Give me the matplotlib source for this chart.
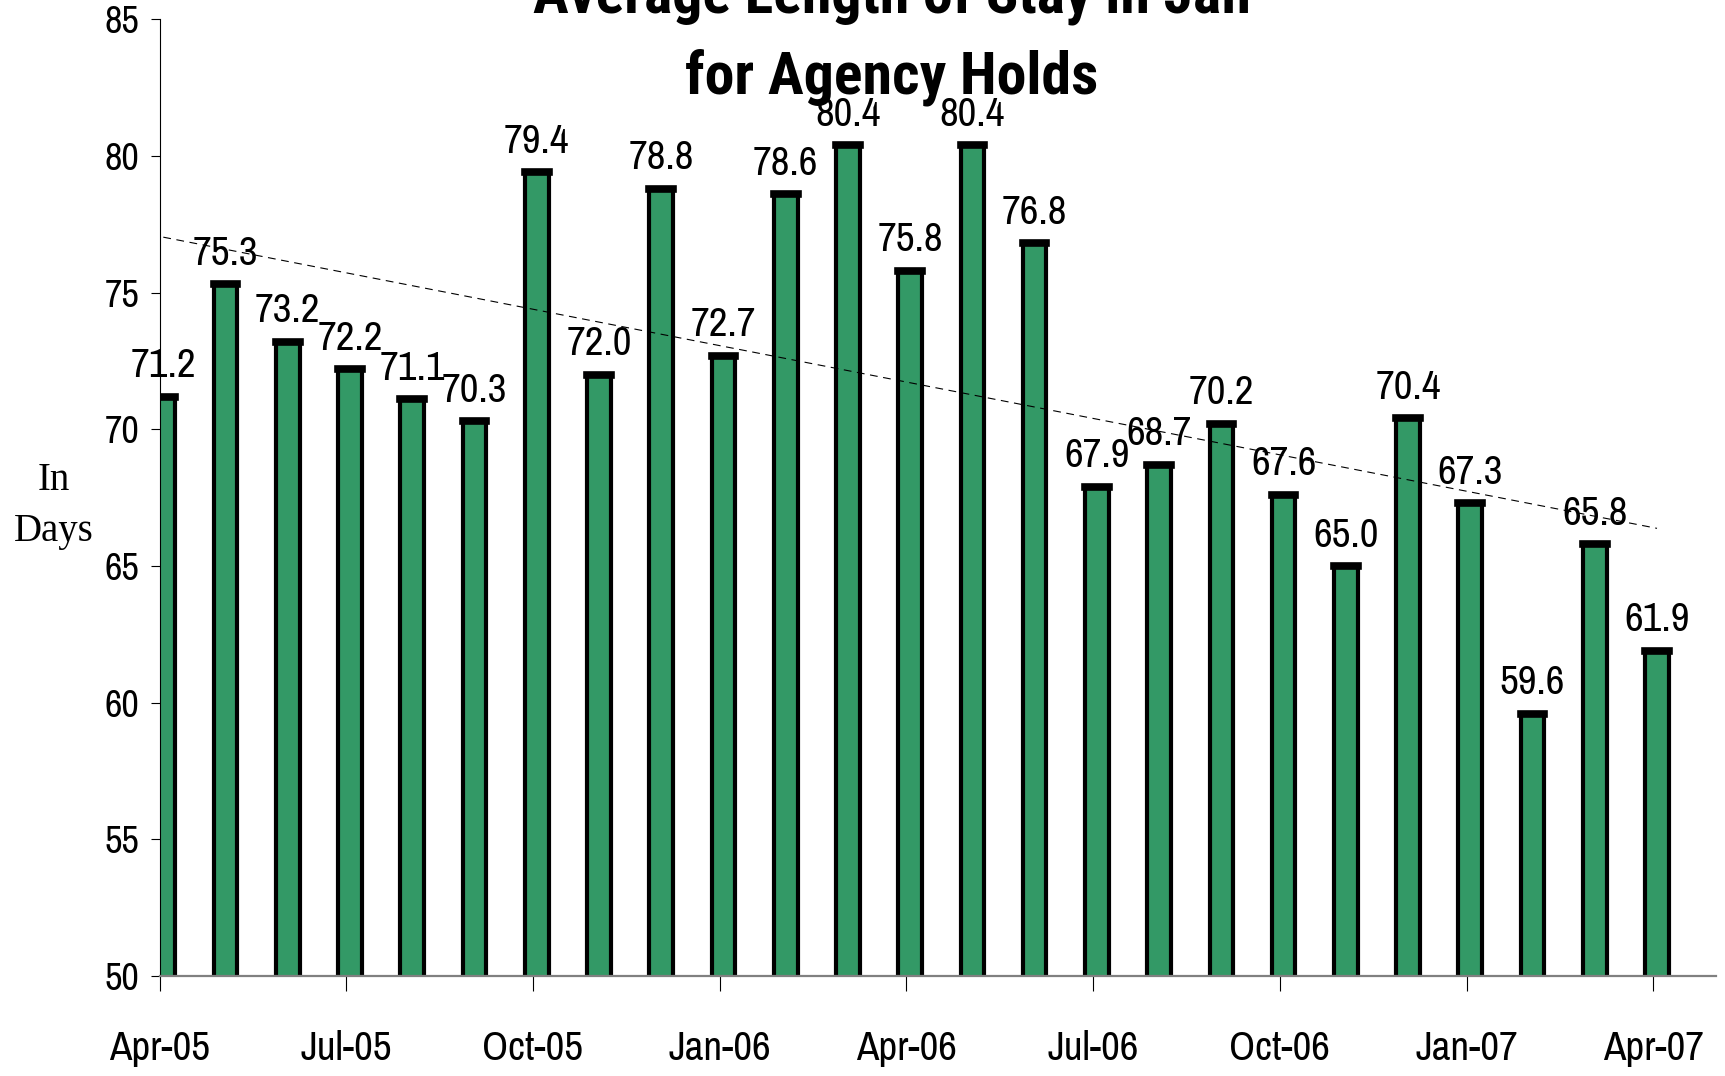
import matplotlib
matplotlib.use("Agg")
import matplotlib.pyplot as plt
import numpy as np

# monthly average length of stay (days), Apr-05 .. Apr-07
months = ['Apr-05', 'May-05', 'Jun-05', 'Jul-05', 'Aug-05', 'Sep-05', 'Oct-05',
          'Nov-05', 'Dec-05', 'Jan-06', 'Feb-06', 'Mar-06', 'Apr-06', 'May-06',
          'Jun-06', 'Jul-06', 'Aug-06', 'Sep-06', 'Oct-06', 'Nov-06', 'Dec-06',
          'Jan-07', 'Feb-07', 'Mar-07', 'Apr-07']
days = [71.2, 75.3, 73.2, 72.2, 71.1, 70.3, 79.4, 72.0, 78.8, 72.7, 78.6, 80.4,
        75.8, 80.4, 76.8, 67.9, 68.7, 70.2, 67.6, 65.0, 70.4, 67.3, 59.6, 65.8, 61.9]
tick_labels = ['Apr-05', 'Jul-05', 'Oct-05', 'Jan-06', 'Apr-06', 'Jul-06',
               'Oct-06', 'Jan-07', 'Apr-07']

# narrow sans, first one that is installed wins
plt.rcParams['font.family'] = ['Liberation Sans Narrow', 'Arial Narrow',
                               'Archivo Narrow', 'Roboto Condensed',
                               'PT Sans Narrow', 'IBM Plex Sans Condensed',
                               'DejaVu Sans']
title_font = ['Liberation Sans Narrow', 'Roboto Condensed', 'DejaVu Sans']

fig = plt.figure(figsize=(17.25, 10.76), dpi=100)
ax = fig.add_axes([0.0925, 0.093, 0.902, 0.889])

idx = np.arange(len(months))
x = idx + 0.06
bar_w = 0.38

ax.bar(x, days, width=bar_w, color='#339966', edgecolor='black',
       linewidth=3.0, zorder=1)
# heavier black cap on top of each bar
caps = ax.hlines(days, x - bar_w / 2, x + bar_w / 2, color='black',
                 linewidth=5.5, zorder=1.5)
caps.set_capstyle('projecting')

# linear trend
coef = np.polyfit(idx, days, 1)
ax.plot(x, np.polyval(coef, idx), color='black', lw=0.8, dashes=(7, 5), zorder=3)

for xi, v in zip(x, days):
    ax.annotate(f'{v:.1f}', (xi, v), xytext=(0, 14), textcoords='offset points',
                ha='center', va='baseline', fontsize=29.5, zorder=4)

ax.set_ylim(50, 85)
ax.set_yticks(np.arange(50, 86, 5))
ax.set_xlim(0, 25.0)
ax.set_xticks(idx[::3])
ax.set_xticklabels(tick_labels)

ax.tick_params(axis='y', direction='out', length=6.5, width=0.8, pad=8,
               labelsize=27.5)
ax.tick_params(axis='x', direction='out', length=11, width=0.8, pad=28,
               labelsize=29.5)

for s in ['top', 'right']:
    ax.spines[s].set_visible(False)
ax.spines['left'].set_linewidth(0.8)
ax.spines['bottom'].set_color('#808080')
ax.spines['bottom'].set_linewidth(1.6)

fig.text(0.517, 0.988, 'Average Length of Stay in Jail', ha='center',
         va='baseline', fontsize=43, fontweight='bold', family=title_font)
fig.text(0.517, 0.913, 'for Agency Holds', ha='center', va='baseline',
         fontsize=43, fontweight='bold', family=title_font)

fig.text(0.031, 0.5446, 'In', family='Liberation Serif', fontsize=28,
         ha='center', va='baseline')
fig.text(0.031, 0.497, 'Days', family='Liberation Serif', fontsize=28,
         ha='center', va='baseline')

fig.savefig('out.png', dpi=100)
